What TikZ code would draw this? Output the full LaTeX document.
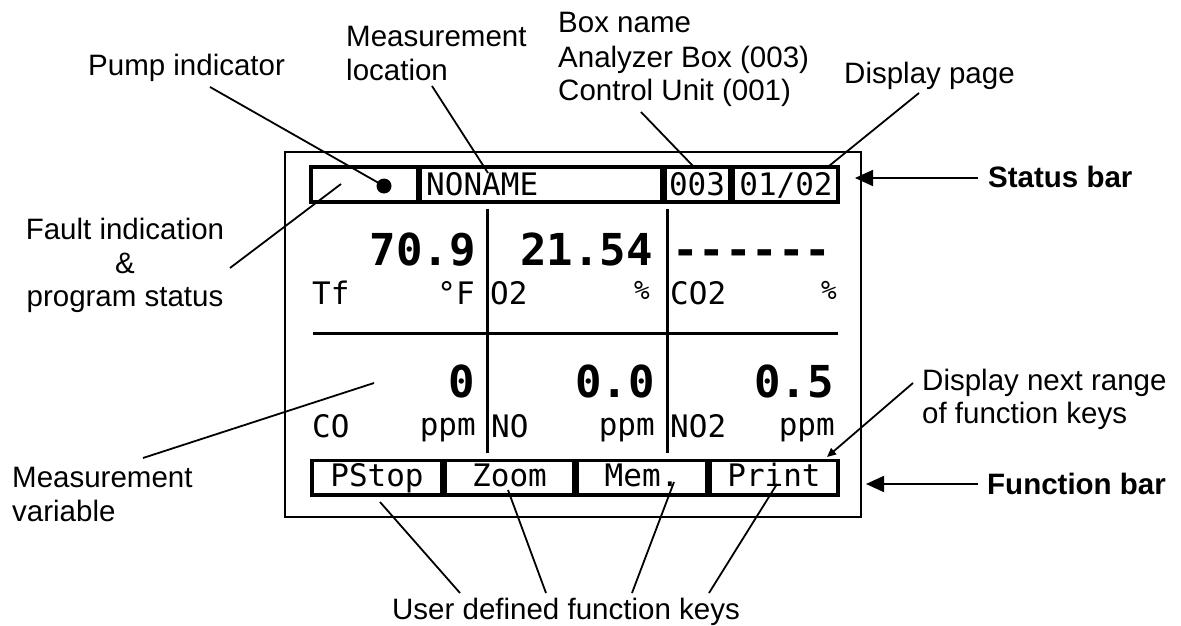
\documentclass[tikz,border=0pt]{standalone}
\usepackage{fontspec}
\setmainfont{Liberation Sans}
\newfontfamily\lcd{DejaVu Sans Mono}
\usetikzlibrary{arrows.meta}
\begin{document}
\begin{tikzpicture}[x=1pt,y=-1pt,
  lab/.style={font=\fontsize{29.5}{34}\selectfont, inner sep=0pt},
  labb/.style={font=\fontsize{29.5}{34}\selectfont\bfseries, inner sep=0pt},
  lcdt/.style={font=\lcd\fontsize{31}{31}\selectfont, inner sep=0pt},
  lcdbig/.style={font=\lcd\bfseries\fontsize{44}{44}\selectfont, inner sep=0pt},
  lcdpct/.style={font=\lcd\fontsize{26}{26}\selectfont, inner sep=0pt},
  cell/.style={line width=3.5pt},
  gridline/.style={line width=3pt},
  conn/.style={line width=1.8pt},
  bigarrow/.style={conn, -{Triangle[length=18pt,width=16pt]}},
  smallarrow/.style={conn, -{Triangle[length=9pt,width=8pt]}},
]
\useasboundingbox (0,0) rectangle (1181,626);
\fill[white] (0,0) rectangle (1181,626);

% display frame
\draw[line width=2pt] (285,152) rectangle (861,517);

% status bar cells
\draw[cell] (311,167) rectangle (417.5,202);
\draw[cell] (420.5,167) rectangle (661.5,202);
\draw[cell] (665,167) rectangle (729.5,202);
\draw[cell] (733,167) rectangle (838,202);
\fill (384,186) circle (7.5);
\coordinate (dot) at (384,186);

% grid
\draw[gridline] (487,209) -- (487,453);
\draw[gridline] (667,209) -- (667,453);
\draw[gridline] (313,333) -- (838,333);

% function bar cells
\draw[cell] (312,460.5) rectangle (442,495);
\draw[cell] (445,460.5) rectangle (574,495);
\draw[cell] (577.5,460.5) rectangle (707,495);
\draw[cell] (710.5,460.5) rectangle (838,495);

% LCD texts
\node[lcdt, anchor=base west] (noname) at (426,195) {NONAME};
\node[lcdt, anchor=base] (boxno) at (697,195) {003};
\node[lcdt, anchor=base] (pageno) at (786,195) {01/02};

\node[lcdbig, anchor=base east] (v1) at (476,265) {70.9};
\node[lcdbig, anchor=base east] (v2) at (653,265) {21.54};
\node[lcdbig, anchor=base west] (v3) at (672,265) {------};
\node[lcdt, anchor=base west] (l1) at (312,304) {Tf};
\node[lcdt, anchor=base east] (u1) at (475,304) {°F};
\node[lcdt, anchor=base west] (l2) at (490,304) {O2};
\node[lcdpct, anchor=base east] (u2) at (650,299) {\%};
\node[lcdt, anchor=base west] (l3) at (670,304) {CO2};
\node[lcdpct, anchor=base east] (u3) at (837,299) {\%};

\node[lcdbig, anchor=base east] (v4) at (475,397) {0};
\node[lcdbig, anchor=base east] (v5) at (655,397) {0.0};
\node[lcdbig, anchor=base east] (v6) at (834,397) {0.5};
\node[lcdt, anchor=base west] (l4) at (312,437) {CO};
\node[lcdt, anchor=base east] (u4) at (476,435) {ppm};
\node[lcdt, anchor=base west] (l5) at (491,437) {NO};
\node[lcdt, anchor=base east] (u5) at (655,435) {ppm};
\node[lcdt, anchor=base west] (l6) at (670,437) {NO2};
\node[lcdt, anchor=base east] (u6) at (835,435) {ppm};

\node[lcdt, anchor=base] (k1) at (377,486) {PStop};
\node[lcdt, anchor=base] (k2) at (509.5,486) {Zoom};
\node[lcdt, anchor=base] (k3) at (642,486) {Mem.};
\node[lcdt, anchor=base] (k4) at (774,486) {Print};

% labels
\node[lab, anchor=base west] (pump) at (88,76) {Pump indicator};
\node[lab, anchor=base west] (ml1) at (346,47) {Measurement};
\node[lab, anchor=base west] (ml2) at (346,81) {location};
\node[lab, anchor=base west] (bn1) at (558,33) {Box name};
\node[lab, anchor=base west] (bn2) at (558,67) {Analyzer Box (003)};
\node[lab, anchor=base west] (bn3) at (558,100) {Control Unit (001)};
\node[lab, anchor=base west] (dp) at (844,84) {Display page};
\node[labb, anchor=base west] (sb) at (988,187) {Status bar};
\node[labb, anchor=base west] (fb) at (987,494) {Function bar};
\node[lab, anchor=base west] (dn1) at (922,390) {Display next range};
\node[lab, anchor=base west] (dn2) at (922,423) {of function keys};
\node[lab, anchor=base] (fi1) at (125,239) {Fault indication};
\node[lab, anchor=base] (fi2) at (125,273) {\&};
\node[lab, anchor=base] (fi3) at (125,306) {program status};
\node[lab, anchor=base west] (mv1) at (12,487) {Measurement};
\node[lab, anchor=base west] (mv2) at (12,521) {variable};
\node[lab, anchor=base] (uf) at (566,619) {User defined function keys};

% connector end points
\coordinate (pumpA) at (210,87);
\coordinate (mlA) at (432,86);   \coordinate (mlB) at (488,173);
\coordinate (bnA) at (641,112);  \coordinate (bnB) at (693,166);
\coordinate (dpA) at (919,93);   \coordinate (dpB) at (829,166);
\coordinate (sbA) at (978,178);  \coordinate (sbB) at (855,178);
\coordinate (fbA) at (978,484);  \coordinate (fbB) at (866,484);
\coordinate (dnA) at (913,383);  \coordinate (dnB) at (827,457);
\coordinate (fiA) at (230,268);  \coordinate (fiB) at (341,184);
\coordinate (mvA) at (143,458);  \coordinate (mvB) at (374,383);
\coordinate (k1A) at (380,502);  \coordinate (uf1) at (460,593);
\coordinate (k2A) at (508,490);  \coordinate (uf2) at (546,593);
\coordinate (k3A) at (674,482);  \coordinate (uf3) at (632,593);
\coordinate (k4A) at (777,484);  \coordinate (uf4) at (709,593);

% connectors
\draw[conn] (pumpA) -- (dot);
\draw[conn] (mlA) -- (mlB);
\draw[conn] (bnA) -- (bnB);
\draw[conn] (dpA) -- (dpB);
\draw[bigarrow] (sbA) -- (sbB);
\draw[bigarrow] (fbA) -- (fbB);
\draw[smallarrow] (dnA) -- (dnB);
\draw[conn] (fiA) -- (fiB);
\draw[conn] (mvA) -- (mvB);
\draw[conn] (k1A) -- (uf1);
\draw[conn] (k2A) -- (uf2);
\draw[conn] (k3A) -- (uf3);
\draw[conn] (k4A) -- (uf4);
\end{tikzpicture}
\end{document}
